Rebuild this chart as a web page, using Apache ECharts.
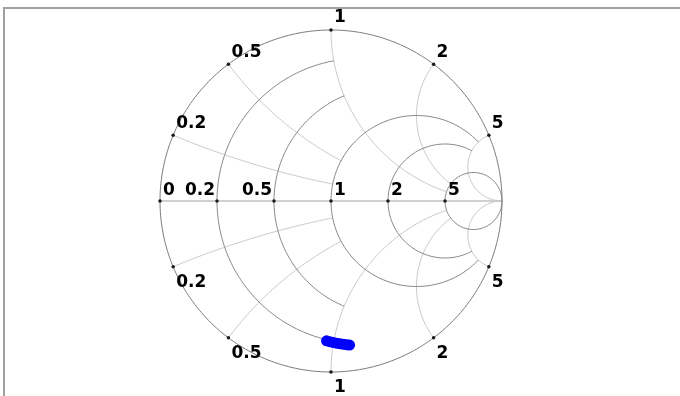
<!DOCTYPE html>
<html>
<head>
<meta charset="utf-8">
<script src="https://cdn.jsdelivr.net/npm/echarts@6/dist/echarts.min.js"></script>
<style>
  html, body { margin: 0; padding: 0; background: #ffffff; }
  #chart { width: 680px; height: 396px; }
</style>
</head>
<body>
<div id="chart"></div>
<script>
// Smith chart grid values (normalized impedance)
const gridValues = [0.2, 0.5, 1, 2, 5];
// each grid circle stops where it meets this value of the other family
const gridStops = [1, 1, 5, 5, Infinity];
// labels along the real axis (resistance) and around the rim (reactance)
const realAxisValues = [0, 0.2, 0.5, 1, 2, 5];
const realAxisLabels = ['0', '0.2', '0.5', '1', '2', '5'];
const rimLabels = ['0.2', '0.5', '1', '2', '5'];

// measured load impedance, normalized: resistance and reactance
const loadR = [0.192, 0.191, 0.190, 0.189, 0.188, 0.187, 0.186, 0.185];
const loadX = [-0.95, -0.975, -1.0, -1.025, -1.05, -1.075, -1.10, -1.12];

// reflection coefficient of z = r + jx
function gamma(r, x) {
  const d = (r + 1) * (r + 1) + x * x;
  return [(r * r - 1 + x * x) / d, (2 * x) / d];
}
function arc(cx, cy, rad, a0, a1, n) {
  const pts = [];
  for (let i = 0; i <= n; i++) {
    const a = a0 + (a1 - a0) * i / n;
    pts.push([cx + rad * Math.cos(a), cy + rad * Math.sin(a)]);
  }
  return pts;
}
function resistanceCircle(r, stop) {
  const cx = r / (1 + r), rad = 1 / (1 + r);
  let te = 0;
  if (isFinite(stop)) {
    const g = gamma(r, stop);
    te = Math.atan2(g[1], g[0] - cx);
  }
  return arc(cx, 0, rad, te, 2 * Math.PI - te, 300);
}
function reactanceArc(x, stop) {
  const v = Math.abs(x), s = Math.sign(x);
  const cy = 1 / v, rad = 1 / v;
  const g0 = gamma(0, v);
  const ge = isFinite(stop) ? gamma(stop, v) : [1, 0];
  const a0 = Math.atan2(g0[1] - cy, g0[0] - 1);
  let a1 = Math.atan2(ge[1] - cy, ge[0] - 1);
  if (a1 < a0) a1 += 2 * Math.PI;
  return arc(1, cy, rad, a0, a1, 300).map(p => [p[0], s * p[1]]);
}

const RES_COLOR = '#888888';
const REACT_COLOR = '#cacaca';
const LABEL_FONT = {
  color: '#000000', fontFamily: 'DejaVu Sans', fontWeight: 'bold', fontSize: 17,
  textBorderWidth: 0, opacity: 1
};

function lineSeries(data, color, width) {
  return {
    type: 'line', data: data, showSymbol: false, silent: true, clip: false, z: 1,
    lineStyle: { color: color, width: width, opacity: 1 }, animation: false
  };
}

const series = [];
// real axis
series.push(lineSeries([[-1, 0], [1, 0]], '#d0d0d0', 2));
// reactance arcs
gridValues.forEach((v, i) => {
  series.push(lineSeries(reactanceArc(v, gridStops[i]), REACT_COLOR, 1));
  series.push(lineSeries(reactanceArc(-v, gridStops[i]), REACT_COLOR, 1));
});
// resistance circles
gridValues.forEach((v, i) => {
  series.push(lineSeries(resistanceCircle(v, gridStops[i]), RES_COLOR, 1));
});
// outer rim (r = 0)
series.push(lineSeries(resistanceCircle(0, Infinity), '#7c7c7c', 1));

// tick dots and their labels
const dots = [];
realAxisValues.forEach((v, i) => {
  const left = v > 0 && v < 1;
  dots.push({
    value: gamma(v, 0),
    label: Object.assign({
      show: true, formatter: realAxisLabels[i], position: 'inside',
      align: left ? 'right' : 'left', verticalAlign: 'middle',
      offset: [left ? -2 : 3, -10]
    }, LABEL_FONT)
  });
});
gridValues.forEach((v, i) => {
  dots.push({
    value: gamma(0, v),
    label: Object.assign({
      show: true, formatter: rimLabels[i], position: 'inside',
      align: 'left', verticalAlign: 'middle', offset: [3, -12]
    }, LABEL_FONT)
  });
  dots.push({
    value: gamma(0, -v),
    label: Object.assign({
      show: true, formatter: rimLabels[i], position: 'inside',
      align: 'left', verticalAlign: 'middle', offset: [3, 16]
    }, LABEL_FONT)
  });
});
series.push({
  type: 'scatter', data: dots, symbol: 'circle', symbolSize: 3.5, silent: true, z: 5,
  itemStyle: { color: '#1a1a1a', opacity: 1, borderWidth: 0 }, animation: false, clip: false
});

// load trace
series.push({
  type: 'scatter', symbol: 'circle', symbolSize: 11, animation: false, clip: false, z: 10,
  data: loadR.map((r, i) => gamma(r, loadX[i])),
  itemStyle: { color: '#0000ff', opacity: 1, borderWidth: 0 },
  emphasis: { disabled: true }
});

const chart = echarts.init(document.getElementById('chart'), null, { renderer: 'canvas' });
chart.setOption({
  backgroundColor: '#ffffff',
  animation: false,
  grid: { left: 160, top: 30, width: 342, height: 342 },
  xAxis: { type: 'value', min: -1, max: 1, show: false },
  yAxis: { type: 'value', min: -1, max: 1, show: false },
  graphic: [{
    type: 'rect', silent: true,
    shape: { x: 4, y: 8, width: 720, height: 420 },
    style: { fill: 'none', stroke: '#a0a0a0', lineWidth: 2 }
  }],
  series: series
});
</script>
</body>
</html>
